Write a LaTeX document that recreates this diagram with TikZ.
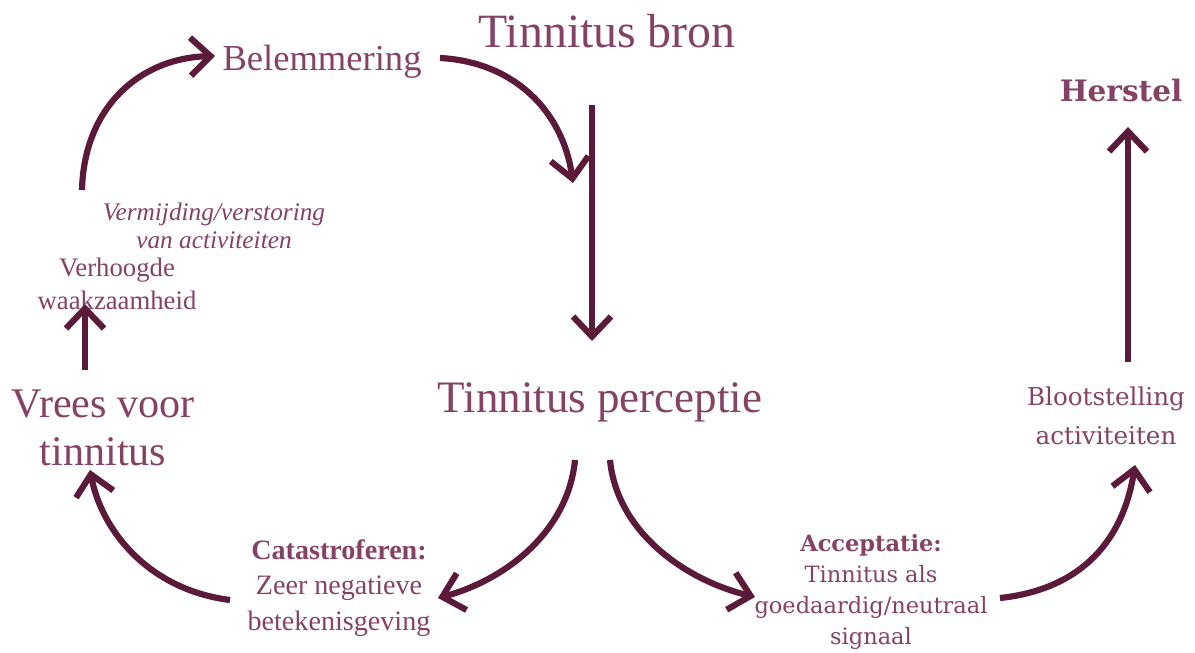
\documentclass[tikz,border=0pt]{standalone}
\usepackage{fontspec}
\setmainfont{Liberation Serif}
\newfontfamily\widefont{DejaVu Serif}
\usetikzlibrary{arrows.meta}
\definecolor{labelmauve}{RGB}{134,66,100}
\definecolor{arrowmaroon}{RGB}{91,26,58}
\tikzset{
  flow/.style={draw=arrowmaroon,line width=4.4pt,-{Straight Barb[length=5mm,width=9.5mm]}},
  lab/.style={text=labelmauve,align=center,inner sep=1pt},
  big/.style={lab,font=\fontsize{34}{38}\selectfont},
  mid/.style={lab,font=\fontsize{26}{32}\selectfont},
  fear/.style={lab,font=\fontsize{30}{34}\selectfont},
  small/.style={lab,font=\fontsize{19}{23}\selectfont},
  slanted/.style={lab,font=\itshape\fontsize{18}{19.5}\selectfont},
  wide/.style={lab,font=\widefont\fontsize{16}{22}\selectfont},
  widebig/.style={lab,font=\widefont\fontsize{17.5}{28}\selectfont},
}

\begin{document}
\begin{tikzpicture}[x=0.025cm,y=0.025cm]
  \path[use as bounding box] (0,0) rectangle (1195,652);

  % texts
  \node[big] (bron) at (607,621) {Tinnitus bron};
  \node[mid] (belemmering) at (322,590) {Belemmering};
  \node[big,font=\fontsize{32}{38}\selectfont] (perceptie) at (600,250) {Tinnitus perceptie};
  \node[fear] (vrees) at (103,224) {Vrees voor\\tinnitus};
  \node[small] (verhoogd) at (117,368) {Verhoogde\\waakzaamheid};
  \node[slanted] (vermijding) at (214,426) {Vermijding/verstoring\\van activiteiten};
  \node[small,font=\fontsize{20}{25}\selectfont] (catastrof) at (339,64)
    {\textbf{Catastroferen:}\\Zeer negatieve\\betekenisgeving};
  \node[wide] (acceptatie) at (871,60)
    {\textbf{Acceptatie:}\\Tinnitus als\\goedaardig/neutraal\\signaal};
  \node[widebig] (blootstelling) at (1106,236) {Blootstelling\\activiteiten};
  \node[lab,font=\widefont\bfseries\fontsize{21}{25}\selectfont] (herstel) at (1121,562) {Herstel};

  % arrow ends
  \coordinate (bel-out) at (440,594);
  \coordinate (bel-in) at (573,469);
  \coordinate (bron-out) at (592,547);
  \coordinate (perc-in) at (592,311);
  \coordinate (verm-out) at (82,462);
  \coordinate (bel-tip) at (215,596);
  \coordinate (vrees-out) at (85,282);
  \coordinate (verh-in) at (85,348);
  \coordinate (cata-out) at (230,52);
  \coordinate (vrees-in) at (90,182);
  \coordinate (perc-left) at (575,192);
  \coordinate (cata-in) at (438,54);
  \coordinate (perc-right) at (610,192);
  \coordinate (acc-in) at (755,55);
  \coordinate (acc-out) at (1000,54);
  \coordinate (bloot-in) at (1135,187);
  \coordinate (bloot-out) at (1128,290);
  \coordinate (herst-in) at (1128,525);

  % connectors
  \draw[flow] (bel-out) .. controls (515,590) and (563,540) .. (bel-in);
  \draw[flow] (bron-out) -- (perc-in);
  \draw[flow] (verm-out) .. controls (84,545) and (140,594) .. (bel-tip);
  \draw[flow] (vrees-out) -- (verh-in);
  \draw[flow] (cata-out) .. controls (150,62) and (102,120) .. (vrees-in);
  \draw[flow] (perc-left) .. controls (568,120) and (505,72) .. (cata-in);
  \draw[flow] (perc-right) .. controls (617,120) and (685,72) .. (acc-in);
  \draw[flow] (acc-out) .. controls (1075,62) and (1122,105) .. (bloot-in);
  \draw[flow] (bloot-out) -- (herst-in);
\end{tikzpicture}
\end{document}
